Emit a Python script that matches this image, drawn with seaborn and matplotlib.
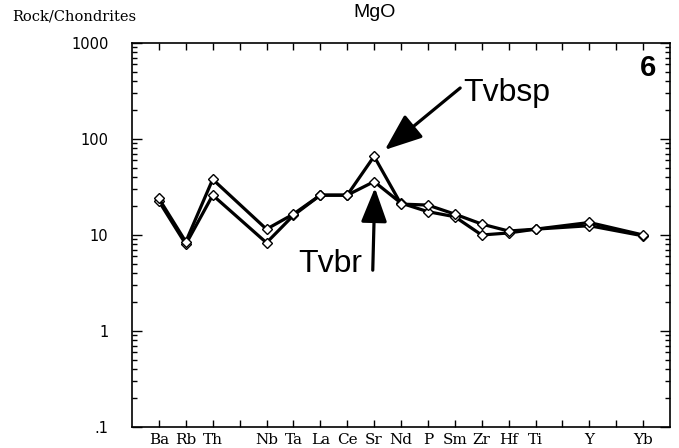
import numpy as np
import pandas as pd
import matplotlib
matplotlib.use("Agg")
import matplotlib.pyplot as plt
import seaborn as sns
from matplotlib.ticker import FixedLocator, LogLocator, NullFormatter, FixedFormatter

# ---- data ----
axis_slots = ["Ba", "Rb", "Th", "", "Nb", "Ta", "La", "Ce", "Sr", "Nd", "P",
              "Sm", "Zr", "Hf", "Ti", "", "Y", "", "Yb"]
elements = ["Ba", "Rb", "Th", "Nb", "Ta", "La", "Ce", "Sr", "Nd", "P",
            "Sm", "Zr", "Hf", "Ti", "Y", "Yb"]
tvbsp = [24, 8.5, 38, 11.5, 16.5, 26, 26, 66, 21, 20.5, 16.5, 13, 11, 11.5, 13.5, 10]
tvbr = [22.5, 8, 26, 8.3, 16, 26, 26, 36, 21.5, 17.5, 15.5, 10, 10.5, 11.5, 12.5, 9.8]
y_ticks = [0.1, 1, 10, 100, 1000]
y_tick_labels = [".1", "1", "10", "100", "1000"]

sns.set_style("ticks")
plt.rcParams["font.family"] = ["DejaVu Sans"]
plt.rcParams["text.color"] = "black"
plt.rcParams["xtick.color"] = "black"
plt.rcParams["ytick.color"] = "black"
plt.rcParams["xtick.labelcolor"] = "black"
plt.rcParams["ytick.labelcolor"] = "black"

W, H = 679, 448
fig = plt.figure(figsize=(W / 100, H / 100), dpi=100)
L, R, B, T = 132, 670, 427, 43
ax = fig.add_axes([L / W, 1 - B / H, (R - L) / W, (B - T) / H])

pos = [axis_slots.index(e) for e in elements]
df = pd.DataFrame({"pos": pos + pos,
                   "value": tvbsp + tvbr,
                   "sample": ["Tvbsp"] * len(pos) + ["Tvbr"] * len(pos)})

for name in ["Tvbr", "Tvbsp"]:
    sub = df[df["sample"] == name]
    sns.lineplot(data=sub, x="pos", y="value", color="black", linewidth=2.3,
                 marker="D", markersize=5, markerfacecolor="white",
                 markeredgecolor="black", markeredgewidth=1.0,
                 sort=False, estimator=None, ax=ax, legend=False)

ax.set_yscale("log")
ax.set_ylim(0.1, 1000)
ax.set_xlim(-1, 19)
ax.set_xlabel("")
ax.set_ylabel("")

ax.yaxis.set_major_locator(FixedLocator(y_ticks))
ax.yaxis.set_major_formatter(FixedFormatter(y_tick_labels))
ax.yaxis.set_minor_locator(LogLocator(base=10, subs=np.arange(2, 10)))
ax.yaxis.set_minor_formatter(NullFormatter())

ax.set_xticks(range(len(axis_slots)))
ax.set_xticklabels(axis_slots, family="DejaVu Serif", fontsize=11)

ax.tick_params(axis="both", which="both", direction="in", top=True, right=True,
               color="black", width=1.0)
ax.tick_params(axis="x", which="major", length=5, pad=4)
ax.tick_params(axis="y", which="major", length=7, pad=17, labelsize=10.5)
ax.tick_params(axis="y", which="minor", length=3.5)

for sp in ax.spines.values():
    sp.set_linewidth(1.2)
    sp.set_color("black")

# annotations
ax.annotate("", xy=(8.4, 77), xytext=(11.2, 340),
            arrowprops=dict(arrowstyle="-|>,head_length=1.15,head_width=0.45",
                            color="black", lw=2.3, mutation_scale=20,
                            shrinkA=0, shrinkB=0))
ax.annotate("", xy=(8.03, 31), xytext=(7.95, 4.3),
            arrowprops=dict(arrowstyle="-|>,head_length=1.05,head_width=0.4",
                            color="black", lw=2.3, mutation_scale=20,
                            shrinkA=0, shrinkB=0))
ax.text(11.3, 250, "Tvbsp", ha="left", va="baseline", fontsize=23,
        family="Liberation Sans")
ax.text(7.55, 4.1, "Tvbr", ha="right", va="baseline", fontsize=23,
        family="Liberation Sans")
ax.text(18.2, 550, "6", ha="center", va="center", fontsize=21,
        fontweight="bold", family="Liberation Sans")

fig.text(12 / W, 1 - 17 / H, "Rock/Chondrites", ha="left", va="center",
         fontsize=10.5, family="DejaVu Serif")
fig.text(375 / W, 1 - 17 / H, "MgO", ha="center", va="baseline",
         fontsize=14, family="Liberation Sans")

fig.savefig("out.png", dpi=100)
